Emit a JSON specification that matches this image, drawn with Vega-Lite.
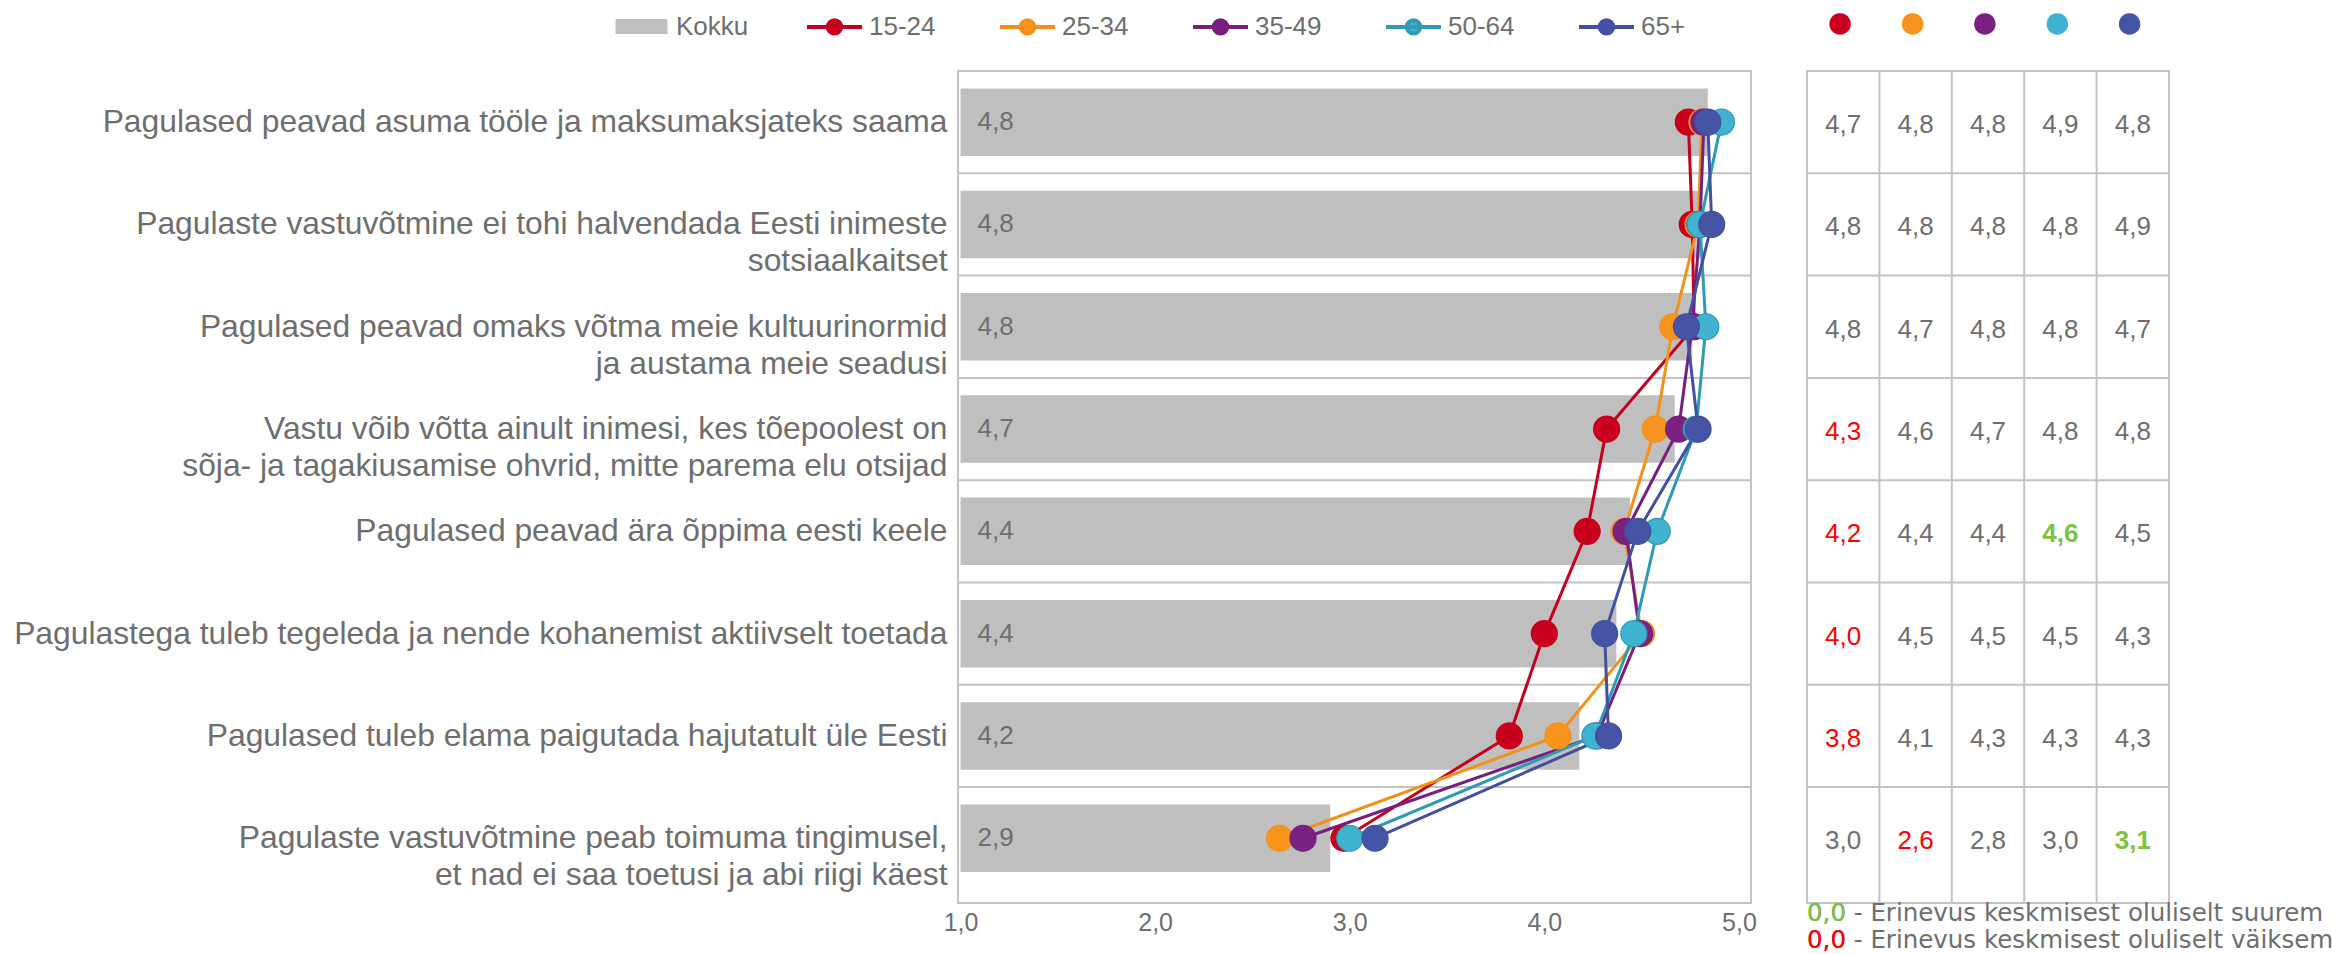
{
  "$schema": "https://vega.github.io/schema/vega-lite/v6.json",
  "background": "white",
  "padding": {"left": 12, "top": -4, "right": 0, "bottom": 0},
  "datasets": {
    "kokku": [
      {"q": 1, "s": "Pagulased peavad asuma tööle ja maksumaksjateks saama", "value": 4.84},
      {"q": 2, "s": "Pagulaste vastuvõtmine ei tohi halvendada Eesti inimeste\nsotsiaalkaitset", "value": 4.81},
      {"q": 3, "s": "Pagulased peavad omaks võtma meie kultuurinormid\nja austama meie seadusi", "value": 4.76},
      {"q": 4, "s": "Vastu võib võtta ainult inimesi, kes tõepoolest on\nsõja- ja tagakiusamise ohvrid, mitte parema elu otsijad", "value": 4.67},
      {"q": 5, "s": "Pagulased peavad ära õppima eesti keele", "value": 4.44},
      {"q": 6, "s": "Pagulastega tuleb tegeleda ja nende kohanemist aktiivselt toetada", "value": 4.37},
      {"q": 7, "s": "Pagulased tuleb elama paigutada hajutatult üle Eesti", "value": 4.18},
      {"q": 8, "s": "Pagulaste vastuvõtmine peab toimuma tingimusel,\net nad ei saa toetusi ja abi riigi käest", "value": 2.90}
    ],
    "groups": [
      {"q": 1, "group": "15-24", "value": 4.74, "sig": ""},
      {"q": 1, "group": "25-34", "value": 4.81, "sig": ""},
      {"q": 1, "group": "35-49", "value": 4.82, "sig": ""},
      {"q": 1, "group": "50-64", "value": 4.91, "sig": ""},
      {"q": 1, "group": "65+", "value": 4.84, "sig": ""},
      {"q": 2, "group": "15-24", "value": 4.76, "sig": ""},
      {"q": 2, "group": "25-34", "value": 4.79, "sig": ""},
      {"q": 2, "group": "35-49", "value": 4.80, "sig": ""},
      {"q": 2, "group": "50-64", "value": 4.80, "sig": ""},
      {"q": 2, "group": "65+", "value": 4.86, "sig": ""},
      {"q": 3, "group": "15-24", "value": 4.77, "sig": ""},
      {"q": 3, "group": "25-34", "value": 4.66, "sig": ""},
      {"q": 3, "group": "35-49", "value": 4.76, "sig": ""},
      {"q": 3, "group": "50-64", "value": 4.83, "sig": ""},
      {"q": 3, "group": "65+", "value": 4.73, "sig": ""},
      {"q": 4, "group": "15-24", "value": 4.32, "sig": "lower"},
      {"q": 4, "group": "25-34", "value": 4.57, "sig": ""},
      {"q": 4, "group": "35-49", "value": 4.69, "sig": ""},
      {"q": 4, "group": "50-64", "value": 4.78, "sig": ""},
      {"q": 4, "group": "65+", "value": 4.79, "sig": ""},
      {"q": 5, "group": "15-24", "value": 4.22, "sig": "lower"},
      {"q": 5, "group": "25-34", "value": 4.41, "sig": ""},
      {"q": 5, "group": "35-49", "value": 4.42, "sig": ""},
      {"q": 5, "group": "50-64", "value": 4.58, "sig": "higher"},
      {"q": 5, "group": "65+", "value": 4.48, "sig": ""},
      {"q": 6, "group": "15-24", "value": 4.00, "sig": "lower"},
      {"q": 6, "group": "25-34", "value": 4.50, "sig": ""},
      {"q": 6, "group": "35-49", "value": 4.49, "sig": ""},
      {"q": 6, "group": "50-64", "value": 4.46, "sig": ""},
      {"q": 6, "group": "65+", "value": 4.31, "sig": ""},
      {"q": 7, "group": "15-24", "value": 3.82, "sig": "lower"},
      {"q": 7, "group": "25-34", "value": 4.07, "sig": ""},
      {"q": 7, "group": "35-49", "value": 4.27, "sig": ""},
      {"q": 7, "group": "50-64", "value": 4.26, "sig": ""},
      {"q": 7, "group": "65+", "value": 4.33, "sig": ""},
      {"q": 8, "group": "15-24", "value": 2.97, "sig": ""},
      {"q": 8, "group": "25-34", "value": 2.64, "sig": "lower"},
      {"q": 8, "group": "35-49", "value": 2.76, "sig": ""},
      {"q": 8, "group": "50-64", "value": 3.00, "sig": ""},
      {"q": 8, "group": "65+", "value": 3.13, "sig": "higher"}
    ],
    "notes": [
      {"note": "0,0 - Erinevus keskmisest oluliselt suurem\n0,0 - Erinevus keskmisest oluliselt väiksem", "hi": "0,0", "lo": "\n0,0"}
    ]
  },
  "bounds": "flush",
  "spacing": 56,
  "resolve": {"scale": {"x": "independent", "y": "independent"}},
  "hconcat": [
    {
      "width": 793,
      "height": 832,
      "layer": [
        {
          "data": {"name": "kokku"},
          "mark": {"type": "rule", "color": "#C3C3C3", "strokeWidth": 2},
          "encoding": {
            "y": {"field": "s", "type": "nominal", "bandPosition": 0}
          }
        },
        {
          "data": {"name": "kokku"},
          "mark": {"type": "bar", "height": {"band": 0.66}},
          "encoding": {
            "y": {
              "field": "s", "type": "nominal",
              "scale": {
                "domain": [
                  "Pagulased peavad asuma tööle ja maksumaksjateks saama",
                  "Pagulaste vastuvõtmine ei tohi halvendada Eesti inimeste\nsotsiaalkaitset",
                  "Pagulased peavad omaks võtma meie kultuurinormid\nja austama meie seadusi",
                  "Vastu võib võtta ainult inimesi, kes tõepoolest on\nsõja- ja tagakiusamise ohvrid, mitte parema elu otsijad",
                  "Pagulased peavad ära õppima eesti keele",
                  "Pagulastega tuleb tegeleda ja nende kohanemist aktiivselt toetada",
                  "Pagulased tuleb elama paigutada hajutatult üle Eesti",
                  "Pagulaste vastuvõtmine peab toimuma tingimusel,\net nad ei saa toetusi ja abi riigi käest"
                ],
                "paddingInner": 0, "paddingOuter": 0.0665, "align": 0
              },
              "axis": {
                "title": null, "domain": false, "ticks": false, "grid": false,
                "labelFontSize": 31.8, "labelColor": "#6e6e6e", "labelPadding": 11,
                "labelLimit": 1500, "labelLineHeight": 37,
                "labelExpr": "split(datum.label, '\\n')"
              }
            },
            "x": {
              "field": "value", "type": "quantitative",
              "scale": {"domain": [0.987, 5.062], "nice": false, "zero": false},
              "axis": {
                "title": null, "values": [1, 2, 3, 4, 5], "format": ".1f",
                "domain": false, "ticks": false, "grid": false, "labelFlush": false,
                "labelFontSize": 25, "labelColor": "#6e6e6e", "labelPadding": 7
              }
            },
            "x2": {"datum": 1},
            "fill": {
              "datum": "Kokku", "type": "nominal", "title": null,
              "scale": {
                "domain": ["Kokku", "15-24", "25-34", "35-49", "50-64", "65+"],
                "range": ["#BFBFBF", "#C8001E", "#F7941D", "#7A2182", "#3FB3CF", "#4654A5"]
              },
              "legend": {
                "orient": "none", "legendX": -346, "legendY": -74,
                "direction": "horizontal", "title": null, "gridAlign": "all",
                "columnPadding": 50, "symbolSize": 3025, "symbolType": "circle",
                "labelFontSize": 26, "labelColor": "#6e6e6e", "labelOffset": 5,
                "padding": 0, "rowPadding": 0, "symbolStrokeWidth": 4,
                "encode": {
                  "symbols": {
                    "update": {
                      "shape": {"signal": "datum.value === 'Kokku' ? 'M-0.945,-0.27H0.945V0.27H-0.945Z' : 'M-1,0H1M-0.245,0A0.245,0.245,0,1,1,0.245,0A0.245,0.245,0,1,1,-0.245,0Z'"},
                      "fill": {"signal": "scale('fill', datum.value)"},
                      "stroke": {"signal": "datum.value === 'Kokku' ? 'transparent' : scale('stroke', datum.value)"},
                      "strokeWidth": {"value": 4},
                      "opacity": {"value": 1}
                    }
                  }
                }
              }
            }
          }
        },
        {
          "data": {"name": "kokku"},
          "mark": {"type": "text", "align": "left", "baseline": "middle", "dx": 17, "fontSize": 26, "color": "#6e6e6e"},
          "encoding": {
            "y": {"field": "s", "type": "nominal"},
            "x": {"datum": 1, "type": "quantitative"},
            "text": {"field": "value", "type": "quantitative", "format": ".1f"}
          }
        },
        {
          "data": {"name": "groups"},
          "transform": [{"lookup": "q", "from": {"data": {"name": "kokku"}, "key": "q", "fields": ["s"]}}],
          "mark": {"type": "line", "strokeWidth": 3},
          "encoding": {
            "y": {"field": "s", "type": "nominal"},
            "x": {"field": "value", "type": "quantitative"},
            "stroke": {
              "field": "group", "type": "nominal", "title": null,
              "scale": {
                "domain": ["15-24", "25-34", "35-49", "50-64", "65+"],
                "range": ["#C4001D", "#F39019", "#761F7E", "#2E9BB2", "#4150A0"]
              },
              "legend": null
            },
            "order": {"field": "q", "type": "quantitative"}
          }
        },
        {
          "data": {"name": "groups"},
          "transform": [{"lookup": "q", "from": {"data": {"name": "kokku"}, "key": "q", "fields": ["s"]}}],
          "mark": {"type": "point", "filled": true, "shape": "circle", "size": 676, "strokeWidth": 1.2, "opacity": 1},
          "encoding": {
            "y": {"field": "s", "type": "nominal"},
            "x": {"field": "value", "type": "quantitative"},
            "fill": {"field": "group", "type": "nominal", "title": null},
            "stroke": {"field": "group", "type": "nominal", "title": null, "legend": null}
          }
        }
      ]
    },
    {
      "width": 362,
      "height": 832,
      "layer": [
        {
          "data": {"name": "kokku"},
          "mark": {"type": "rule", "color": "#C3C3C3", "strokeWidth": 2},
          "encoding": {
            "y": {
              "field": "s", "type": "nominal", "bandPosition": 0,
              "scale": {
                "domain": [
                  "Pagulased peavad asuma tööle ja maksumaksjateks saama",
                  "Pagulaste vastuvõtmine ei tohi halvendada Eesti inimeste\nsotsiaalkaitset",
                  "Pagulased peavad omaks võtma meie kultuurinormid\nja austama meie seadusi",
                  "Vastu võib võtta ainult inimesi, kes tõepoolest on\nsõja- ja tagakiusamise ohvrid, mitte parema elu otsijad",
                  "Pagulased peavad ära õppima eesti keele",
                  "Pagulastega tuleb tegeleda ja nende kohanemist aktiivselt toetada",
                  "Pagulased tuleb elama paigutada hajutatult üle Eesti",
                  "Pagulaste vastuvõtmine peab toimuma tingimusel,\net nad ei saa toetusi ja abi riigi käest"
                ],
                "paddingInner": 0, "paddingOuter": 0.0665, "align": 0
              },
              "axis": null
            }
          }
        },
        {
          "data": {"name": "groups"},
          "transform": [{"filter": "datum.q == 1"}],
          "mark": {"type": "rule", "color": "#C3C3C3", "strokeWidth": 2},
          "encoding": {
            "x": {"field": "group", "type": "nominal", "bandPosition": 0}
          }
        },
        {
          "data": {"name": "groups"},
          "transform": [
            {"lookup": "q", "from": {"data": {"name": "kokku"}, "key": "q", "fields": ["s"]}},
            {"filter": "datum.sig == ''"}
          ],
          "mark": {"type": "text", "fontSize": 26, "color": "#6e6e6e", "baseline": "middle", "dy": 3},
          "encoding": {
            "x": {
              "field": "group", "type": "nominal",
              "scale": {"domain": ["15-24", "25-34", "35-49", "50-64", "65+"], "paddingInner": 0, "paddingOuter": 0},
              "axis": {
                "orient": "top", "title": null, "domain": false, "ticks": false, "tickSize": 0,
                "grid": false, "labelAngle": 0, "labelExpr": "'●'", "labelFontSize": 50,
                "labelBaseline": "middle", "labelPadding": 49, "labelOffset": 12,
                "labelColor": {"expr": "datum.value === '15-24' ? '#C8001E' : datum.value === '25-34' ? '#F7941D' : datum.value === '35-49' ? '#7A2182' : datum.value === '50-64' ? '#3FB3CF' : '#4654A5'"}
              }
            },
            "y": {"field": "s", "type": "nominal"},
            "text": {"field": "value", "type": "quantitative", "format": ".1f"}
          }
        },
        {
          "data": {"name": "groups"},
          "transform": [
            {"lookup": "q", "from": {"data": {"name": "kokku"}, "key": "q", "fields": ["s"]}},
            {"filter": "datum.sig == 'lower'"}
          ],
          "mark": {"type": "text", "fontSize": 26, "color": "#FF0000", "baseline": "middle", "dy": 3},
          "encoding": {
            "x": {"field": "group", "type": "nominal"},
            "y": {"field": "s", "type": "nominal"},
            "text": {"field": "value", "type": "quantitative", "format": ".1f"}
          }
        },
        {
          "data": {"name": "groups"},
          "transform": [
            {"lookup": "q", "from": {"data": {"name": "kokku"}, "key": "q", "fields": ["s"]}},
            {"filter": "datum.sig == 'higher'"}
          ],
          "mark": {"type": "text", "fontSize": 26, "color": "#7DC242", "fontWeight": "bold", "baseline": "middle", "dy": 3},
          "encoding": {
            "x": {"field": "group", "type": "nominal"},
            "y": {"field": "s", "type": "nominal"},
            "text": {"field": "value", "type": "quantitative", "format": ".1f"}
          }
        },
        {
          "data": {"name": "notes"},
          "mark": {"type": "text", "font": "DejaVu Sans", "fontSize": 24.5, "color": "#6e6e6e", "align": "left", "baseline": "top", "lineBreak": "\n", "lineHeight": 27, "dy": -1},
          "encoding": {
            "x": {"datum": "15-24", "type": "nominal", "bandPosition": 0},
            "y": {"value": "height"},
            "text": {"field": "note", "type": "nominal"}
          }
        },
        {
          "data": {"name": "notes"},
          "mark": {"type": "text", "font": "DejaVu Sans", "fontSize": 24.5, "color": "#7DC242", "align": "left", "baseline": "top", "lineBreak": "\n", "lineHeight": 27, "dy": -1},
          "encoding": {
            "x": {"datum": "15-24", "type": "nominal", "bandPosition": 0},
            "y": {"value": "height"},
            "text": {"field": "hi", "type": "nominal"}
          }
        },
        {
          "data": {"name": "notes"},
          "mark": {"type": "text", "font": "DejaVu Sans", "fontSize": 24.5, "color": "#FF0000", "align": "left", "baseline": "top", "lineBreak": "\n", "lineHeight": 27, "dy": -1},
          "encoding": {
            "x": {"datum": "15-24", "type": "nominal", "bandPosition": 0},
            "y": {"value": "height"},
            "text": {"field": "lo", "type": "nominal"}
          }
        }
      ]
    }
  ],
  "config": {
    "font": "Liberation Sans",
    "view": {"stroke": "#C3C3C3", "strokeWidth": 2},
    "locale": {"number": {"decimal": ",", "thousands": " ", "grouping": [3], "currency": ["", " €"]}}
  }
}
